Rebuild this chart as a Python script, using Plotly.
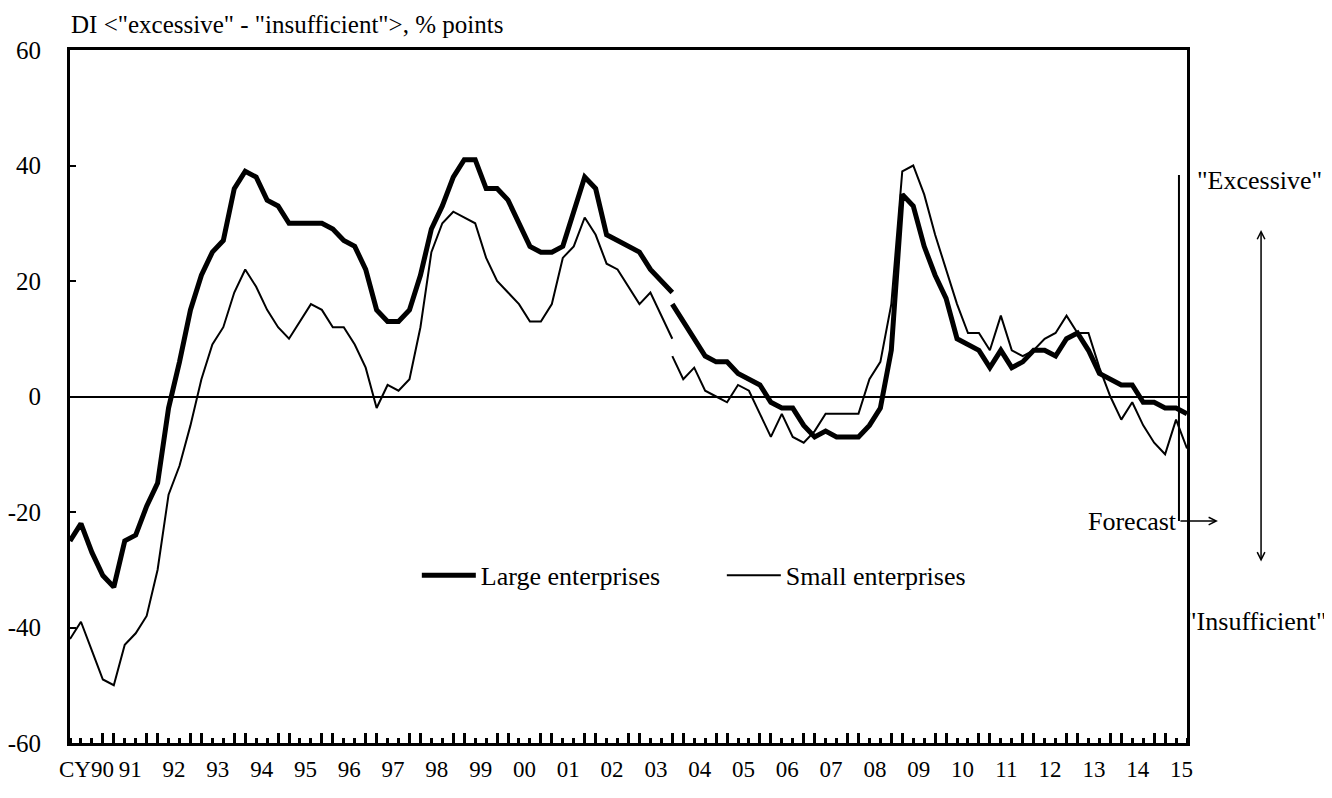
import plotly.graph_objects as go

# Quarter index: 0 .. 102 (CY1990 Q1 onwards); series break at index 55
year_labels = ["CY90", "91", "92", "93", "94", "95", "96", "97", "98", "99",
               "00", "01", "02", "03", "04", "05", "06", "07", "08", "09",
               "10", "11", "12", "13", "14", "15"]
y_ticks = [-60, -40, -20, 0, 20, 40, 60]
y_labels = ["-60", "-40", "-20", "0", "20", "40", "60"]

break_idx = 55

large_old = [-25, -22, -27, -31, -33, -25, -24, -19, -15, -2,
             6, 15, 21, 25, 27, 36, 39, 38, 34, 33,
             30, 30, 30, 30, 29, 27, 26, 22, 15, 13,
             13, 15, 21, 29, 33, 38, 41, 41, 36, 36,
             34, 30, 26, 25, 25, 26, 32, 38, 36, 28,
             27, 26, 25, 22, 20, 18]
large_new = [16, 13, 10, 7, 6, 6, 4, 3, 2, -1,
             -2, -2, -5, -7, -6, -7, -7, -7, -5, -2,
             8, 35, 33, 26, 21, 17, 10, 9, 8, 5,
             8, 5, 6, 8, 8, 7, 10, 11, 8, 4,
             3, 2, 2, -1, -1, -2, -2, -3]

small_old = [-42, -39, -44, -49, -50, -43, -41, -38, -30, -17,
             -12, -5, 3, 9, 12, 18, 22, 19, 15, 12,
             10, 13, 16, 15, 12, 12, 9, 5, -2, 2,
             1, 3, 12, 25, 30, 32, 31, 30, 24, 20,
             18, 16, 13, 13, 16, 24, 26, 31, 28, 23,
             22, 19, 16, 18, 14, 10]
small_new = [7, 3, 5, 1, 0, -1, 2, 1, -3, -7,
             -3, -7, -8, -6, -3, -3, -3, -3, 3, 6,
             16, 39, 40, 35, 28, 22, 16, 11, 11, 8,
             14, 8, 7, 8, 10, 11, 14, 11, 11, 5,
             0, -4, -1, -5, -8, -10, -4, -9]

x_old = list(range(0, break_idx + 1))
x_new = list(range(break_idx, break_idx + len(large_new)))
n_last = x_new[-1]

xs = x_old + [None] + x_new
large = large_old + [None] + large_new
small = small_old + [None] + small_new

FONT = "Liberation Serif, Times New Roman, serif"
FS = 26
FS_T = 25
FS_X = 23
FS_Y = 25

fig = go.Figure()
fig.add_trace(go.Scatter(x=xs, y=large, mode="lines", name="Large enterprises",
                         line=dict(color="black", width=5), connectgaps=False))
fig.add_trace(go.Scatter(x=xs, y=small, mode="lines", name="Small enterprises",
                         line=dict(color="black", width=2), connectgaps=False))
# helper trace for the tall-tick overlay axis
fig.add_trace(go.Scatter(x=[0], y=[0], xaxis="x2", mode="markers",
                         marker=dict(opacity=0), showlegend=False, hoverinfo="skip"))

label_pos = [4 * k + 1.5 for k in range(len(year_labels))]
tall_ticks = [v for v in range(0, n_last + 1) if v % 4 in (0, 3)]

fig.update_layout(
    width=1332, height=798,
    margin=dict(l=62, r=153, t=42, b=63, autoexpand=False),
    paper_bgcolor="white", plot_bgcolor="white",
    font=dict(family=FONT, size=FS, color="black"),
    showlegend=True,
    legend=dict(orientation="h", x=0.3105, y=0.242, xanchor="left", yanchor="middle",
                bgcolor="rgba(0,0,0,0)", font=dict(family=FONT, size=FS),
                itemwidth=54, entrywidth=236, entrywidthmode="pixels"),
    xaxis=dict(range=[0, n_last], tickmode="array", tickvals=label_pos, ticktext=year_labels,
               ticks="", tickangle=0, automargin=False, showgrid=False, zeroline=False,
               showline=True, linecolor="black", linewidth=3, mirror=True,
               ticklabelstandoff=3,
               minor=dict(ticks="inside", dtick=1, tick0=0, ticklen=5, tickwidth=3,
                          tickcolor="black", showgrid=False),
               tickfont=dict(family=FONT, size=FS_X)),
    xaxis2=dict(range=[0, n_last], overlaying="x", anchor="y", side="bottom",
                tickmode="array", tickvals=tall_ticks, ticks="inside", ticklen=10,
                tickwidth=3, tickcolor="black", showticklabels=False, automargin=False,
                showgrid=False, zeroline=False, showline=False),
    yaxis=dict(range=[-60, 60], tickmode="array", tickvals=y_ticks, ticktext=y_labels,
               ticks="inside", ticklen=6, tickwidth=2, tickcolor="black", automargin=False,
               showgrid=False, zeroline=True, zerolinecolor="black", zerolinewidth=2,
               showline=True, linecolor="black", linewidth=3, mirror=True,
               ticklabelstandoff=21, tickfont=dict(family=FONT, size=FS_Y)),
)

# Axis title
fig.add_annotation(xref="paper", yref="paper", x=0.0, y=1.0361, xanchor="left", yanchor="middle",
                   text='DI &lt;"excessive" - "insufficient"&gt;, % points', showarrow=False,
                   borderpad=0, font=dict(family=FONT, size=FS_T))

# Forecast marker line and arrow
fig.add_shape(type="line", xref="paper", yref="paper", x0=0.9928, x1=0.9928, y0=0.8196, y1=0.3203,
              line=dict(color="black", width=2))
fig.add_annotation(xref="paper", yref="paper", axref="pixel", ayref="pixel",
                   x=1.0277, y=0.3203, ax=-39, ay=0,
                   text="", showarrow=True, arrowhead=5, arrowsize=1, arrowwidth=1.5,
                   arrowcolor="black")
fig.add_annotation(xref="paper", yref="paper", x=0.9925, y=0.3203, xanchor="right", yanchor="middle",
                   text="Forecast", showarrow=False, font=dict(family=FONT, size=FS))

# Excessive / Insufficient double arrow
fig.add_annotation(xref="paper", yref="paper", axref="pixel", ayref="pixel",
                   x=1.0663, y=0.7403, ax=0, ay=333,
                   text="", showarrow=True, arrowhead=5, startarrowhead=5, arrowside="end+start",
                   arrowsize=1, startarrowsize=1, arrowwidth=1.5, arrowcolor="black")
fig.add_annotation(xref="paper", yref="paper", x=1.0645, y=0.8124, xanchor="center", yanchor="middle",
                   text='"Excessive"', showarrow=False, font=dict(family=FONT, size=FS))
fig.add_annotation(xref="paper", yref="paper", x=1.0625, y=0.176, xanchor="center", yanchor="middle",
                   text='"Insufficient"', showarrow=False, font=dict(family=FONT, size=FS))

fig.write_html("out.html")
